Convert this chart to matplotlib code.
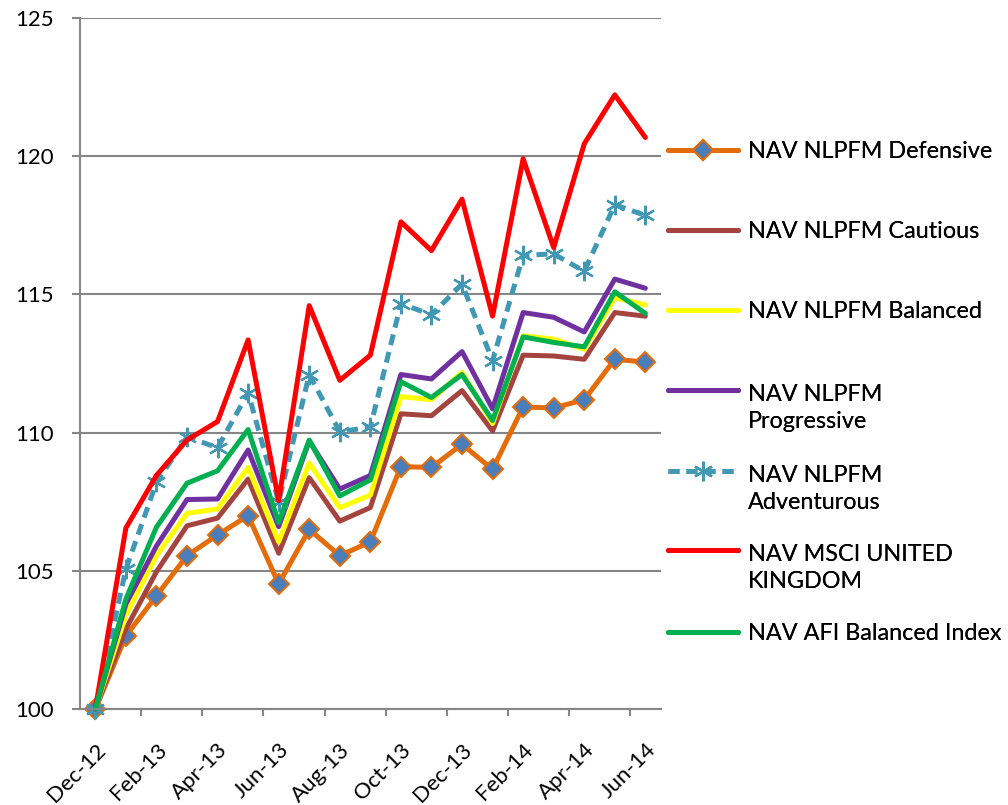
import matplotlib
matplotlib.use("Agg")
import matplotlib.pyplot as plt
import numpy as np

plt.rcParams['font.family'] = ['Lato', 'DejaVu Sans']

months = ['Dec-12', 'Jan-13', 'Feb-13', 'Mar-13', 'Apr-13', 'May-13', 'Jun-13',
          'Jul-13', 'Aug-13', 'Sep-13', 'Oct-13', 'Nov-13', 'Dec-13', 'Jan-14',
          'Feb-14', 'Mar-14', 'Apr-14', 'May-14', 'Jun-14']

defensive = [100, 102.65, 104.1, 105.55, 106.3, 107.0, 104.53, 106.5, 105.55, 106.05,
             108.77, 108.74, 109.58, 108.67, 110.93, 110.89, 111.19, 112.65, 112.55]
cautious = [100, 102.9, 104.97, 106.63, 106.91, 108.32, 105.64, 108.37, 106.8, 107.29,
            110.68, 110.61, 111.52, 110.06, 112.8, 112.77, 112.65, 114.34, 114.21]
balanced = [100, 103.4, 105.55, 107.08, 107.24, 108.74, 106.05, 108.9, 107.29, 107.74,
            111.3, 111.19, 112.18, 110.33, 113.5, 113.38, 113.01, 114.87, 114.62]
progressive = [100, 103.8, 105.9, 107.58, 107.6, 109.37, 106.6, 109.7, 107.96, 108.45,
               112.1, 111.94, 112.93, 110.86, 114.34, 114.17, 113.64, 115.55, 115.22]
adventurous = [100, 105.06, 108.2, 109.85, 109.45, 111.44, 107.5, 112.1, 110.03, 110.2,
               114.66, 114.26, 115.37, 112.6, 116.41, 116.46, 115.83, 118.24, 117.85]
msci_uk = [100, 106.55, 108.45, 109.73, 110.4, 113.35, 107.54, 114.59, 111.89, 112.8,
           117.62, 116.58, 118.44, 114.21, 119.9, 116.69, 120.44, 122.21, 120.67]
afi_balanced = [100, 103.98, 106.58, 108.17, 108.62, 110.11, 106.75, 109.73, 107.71, 108.29,
                111.84, 111.27, 112.1, 110.44, 113.46, 113.26, 113.1, 115.09, 114.31]

labels = ['NAV NLPFM Defensive', 'NAV NLPFM Cautious', 'NAV NLPFM Balanced',
          'NAV NLPFM\nProgressive', 'NAV NLPFM\nAdventurous',
          'NAV MSCI UNITED\nKINGDOM', 'NAV AFI Balanced Index']

x = list(range(len(months)))
grey = '#868686'

fig = plt.figure(figsize=(10.08, 8.05), dpi=100)
ax = fig.add_axes([0.0794, 0.119, 0.576, 0.859])

lw = 3.6
lines = []
lines += ax.plot(x, defensive, color='#E46C0A', lw=lw, marker='D', ms=10.5,
                 mfc='#4A7EBB', mec='#E46C0A', mew=1.5)
lines += ax.plot(x, cautious, color='#A5443F', lw=lw)
lines += ax.plot(x, balanced, color='#FFFF00', lw=lw)
lines += ax.plot(x, progressive, color='#7030A0', lw=lw)
lines += ax.plot(x, adventurous, color='#4198B5', lw=lw, ls=(0, (2.2, 1.4)),
                 marker=(6, 2, 0), ms=14, mec='#4198B5', mew=1.6)
lines += ax.plot(x, msci_uk, color='#FF0000', lw=lw)
lines += ax.plot(x, afi_balanced, color='#00B050', lw=lw)
for ln in lines:
    ln.set_solid_capstyle('round')
    ln.set_clip_on(False)

ax.set_xlim(-0.5, len(months) - 0.5)
ax.set_ylim(100, 125)
ax.set_yticks([100, 105, 110, 115, 120, 125])
ax.set_xticks(x[::2])
ax.set_xticklabels(months[::2], rotation=45, ha='right', rotation_mode='anchor')
ax.set_xticks([i + 1.5 for i in x[:-1:2]], minor=True)
ax.tick_params(axis='x', which='major', length=0, pad=22, labelsize=16)
ax.tick_params(axis='x', which='minor', length=5, width=1.5, color=grey)
ax.tick_params(axis='y', length=5.8, width=1.5, color=grey, labelsize=16, pad=13)

ax.grid(axis='y', color=grey, lw=1.5)
ax.set_axisbelow(True)
for s in ['top', 'right']:
    ax.spines[s].set_visible(False)
for s in ['left', 'bottom']:
    ax.spines[s].set_color(grey)
    ax.spines[s].set_linewidth(1.5)

# legend: one box per entry, first text lines centred at these pixel rows
legend_rows_px = [150, 230, 310, 393, 474, 553, 632]
fs = 16.8
for ln, lab, row in zip(lines, labels, legend_rows_px):
    top = 1 - (row - 9) / 805
    leg = fig.legend([ln], [lab], loc='upper left', numpoints=1,
                     bbox_to_anchor=(0.663, top),
                     frameon=False, fontsize=fs, handlelength=3.0,
                     handletextpad=0.4, borderpad=0, borderaxespad=0)
    for t in leg.get_texts():
        t.set_linespacing(1.35)
    if '\n' in lab:
        # raise the handle to the first text line
        for hl in leg.legend_handles:
            hl.set_ydata(np.asarray(hl.get_ydata()) + 0.8 * fs)
    fig.add_artist(leg)

fig.savefig('out.png', dpi=100)
